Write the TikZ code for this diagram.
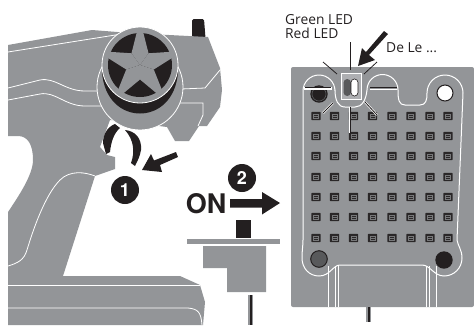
\documentclass[tikz,border=0pt]{standalone}
\usepackage{fontspec}
\setmainfont{Open Sans}
\newfontfamily\heros{TeX Gyre Heros}
\definecolor{gr}{HTML}{939598}
\definecolor{bk}{HTML}{231F20}
\definecolor{dg}{HTML}{58595B}
\tikzset{
 wl/.style={draw=white,line width=0.8pt},
 blk/.style={fill=bk,draw=none},
 body/.style={fill=gr,draw=none},
 lead/.style={draw=bk,line width=0.8pt},
 leadw/.style={draw=white,line width=2.2pt},
 numdisc/.style={circle,fill=bk,minimum size=28pt,inner sep=0pt,text=white,font=\heros\bfseries\fontsize{18}{18}\selectfont},
 lbl/.style={inner sep=0pt,anchor=west,text=bk,font=\fontsize{13.8}{14}\selectfont},
 ledcell/.pic={
  \fill[bk!92!gray,rounded corners=0.6pt] (-4.6,-4.2) rectangle (4.6,4.2);
  \draw[gr!75!bk,line width=0.5pt] (-2.7,-2.2) rectangle (2.7,2.2);
  \draw[gr!75!bk,line width=0.5pt] (-2.7,0) -- (2.7,0);
 }
}
\begin{document}
\begin{tikzpicture}[x=1pt,y=-1pt]
\useasboundingbox (0,0) rectangle (474,325);
% antenna
\fill[bk,rounded corners=1.5pt] (192,38) -- (192,19) -- (204,19) -- (205.5,38) -- cycle;
% transmitter body
\path[body] (8,45) -- (92,30) -- (130,33) -- (208,37) -- (220,68) -- (222,90) -- (220,107) -- (207,126) -- (199,126) -- (189,141) -- (175,141) -- (167,127) -- (110,120) -- (100,147) -- (107,155) -- (115,157) -- (115,169) -- (95,176) -- (63,276) -- (180,276) -- (200,285) -- (205,302) -- (203,325) -- (8,325) -- (8,212) .. controls (18,197) and (33,175) .. (33,160) .. controls (33,145) and (28,136) .. (18,136) -- (8,136) -- cycle;
% trigger
\fill[bk] (115,124) .. controls (107,127) and (103,135) .. (103,143) -- (106,154) -- (110,152) .. controls (111,142) and (114,133) .. (120,128) -- cycle;
\fill[bk] (125,130) .. controls (135,131) and (142,138) .. (141,150) .. controls (140,156) and (138,160) .. (135,166) -- (131,163) .. controls (135,152) and (134,140) .. (125,130) -- cycle;
% body lines
\draw[wl] (8,52) -- (128,33);
\draw[wl] (8,88) -- (40,80) .. controls (55,77) and (65,91) .. (85,91) -- (99,91);
\draw[wl] (8,100) -- (40,94) .. controls (55,91) and (65,106) .. (85,106) -- (102,106);
\draw[wl] (181,89) -- (205,88) -- (220,70);
\draw[wl] (178,103) -- (203,103) -- (203,115) -- (198,126);
\draw[wl] (8,266) .. controls (18,263) and (24,260) .. (27,250) .. controls (33,230) and (45,195) .. (60,180) .. controls (70,170) and (85,172) .. (95,176);
\draw[wl] (8,285) -- (200,285);
\draw[wl] (8,308) -- (188,308) .. controls (198,309) and (201,312) .. (202,325);
% wheel
\draw[wl,fill=gr] (140,87) circle [radius=43];
\path[blk] (102,72) .. controls (104,100) and (122,113.5) .. (140,113.5) .. controls (158,113.5) and (176,100) .. (178,72) -- cycle;
\draw[wl,fill=gr] (140,65) circle [radius=38];
\fill[bk] (140,65) circle [radius=32];
\begin{scope}[shift={(140,65)}]
 \foreach \a in {-90,-18,54,126,198}
  \fill[gr] (0,0) -- (\a-36:14.5) -- (\a-5.5:33) -- (\a+5.5:33) -- (\a+36:14.5) -- cycle;
\end{scope}
% arrow 1
\path[blk] (176,152) -- (178,157) -- (160,165) -- (162,172) -- (142,170) -- (151,154) -- (154,160.5) -- cycle;
\node[numdisc] (n1) at (125,190) {1};
\node[numdisc] (n2) at (242,178) {2};
\node[inner sep=0pt,text=bk,font=\heros\bfseries\fontsize{27}{27}\selectfont] (on) at (206,204) {ON};
\path[blk] (230,199) -- (262,199) -- (262,192) -- (280,203) -- (262,214.5) -- (262,207.5) -- (230,207.5) -- cycle;
% switch
\fill[bk] (236,219.5) rectangle (251,238);
\fill[gr] (187,239) rectangle (280,244);
\path[body] (203,246) -- (266,246) -- (266,292) -- (227,292) -- (227,268) -- (203,268) -- cycle;
\fill[gr] (248,295) rectangle (253,325);
\fill[bk] (249.5,295) rectangle (251.5,325);
% board
\fill[gr,rounded corners=2pt] (291,67) rectangle (474,307);
\draw[wl,line width=1pt] (303,240)
 -- (303,91) arc[start angle=180,end angle=360,radius=16] -- (335,90)
 .. controls (335,100) and (338,107) .. (345,107) -- (355,107)
 .. controls (362,107) and (366,100) .. (367,90)
 arc[start angle=180,end angle=360,radius=15.5]
 .. controls (398,100) and (399,105) .. (405,105) -- (420,105)
 .. controls (426,105) and (427,100) .. (427,93)
 arc[start angle=180,end angle=360,radius=18]
 -- (457,240) .. controls (458,246) and (462,250) .. (462,258)
 .. controls (462,268) and (454,276) .. (444,276)
 .. controls (434,276) and (430,265) .. (422,265) -- (340,265)
 .. controls (333,265) and (330,276) .. (319,276)
 .. controls (309,276) and (302,268) .. (302,258)
 .. controls (302,250) and (303,246) .. (303,240);
\foreach \x in {328.5,335,338,426,429,436}
 \draw[wl] (\x,266) -- (\x,307);
% holes
\fill[bk] (319,94) circle [radius=8.7];
\draw[dg,line width=0.6pt] (319,94) circle [radius=7];
\draw[leadw] (304,88.5) -- (332,88.5);
\draw[lead] (305,87) -- (331,87);
\draw[fill=white,draw=bk,line width=1pt] (445,93) circle [radius=8];
\draw[fill=dg,draw=bk,line width=1pt] (319,259) circle [radius=8.3];
\fill[bk] (444,260) circle [radius=8.7];
% LED matrix
\foreach \y in {116,136,156,177,197,217,238}
 \foreach \x in {316,334.5,353.5,372.5,392,411,430,448}
  \pic at (\x,\y) {ledcell};
% led window
\draw[draw=white,line width=0.8pt,fill=gr!75!white] (341,73) rectangle (361,99);
\fill[dg,rounded corners=3.7pt] (343.5,79) rectangle (351,96);
\draw[draw=bk,line width=0.6pt,fill=white,rounded corners=3.4pt] (351,79) rectangle (358,96);
% leaders
\draw[lead] (350,42) -- (350,70);
\draw[lead] (323,62) -- (337,74);
\draw[lead] (377,62) -- (364,74);
\draw[leadw] (333,103) -- (323,113);
\draw[lead] (333,103) -- (323,113);
\draw[leadw] (365,102) -- (377,115);
\draw[lead] (365,102) -- (377,115);
\draw[leadw] (350,107) -- (350,133);
\draw[lead] (350,107) -- (350,133);
\draw[white,line width=1pt] (370,89) -- (397,89);
\draw[lead] (370,87) -- (397,87);
% arrow 3
\path[blk] (384,31) -- (388,34) -- (369,55) -- (375,60) -- (358,66) -- (362,48) -- (366,52) -- cycle;
% board wire
\fill[gr] (366,307) rectangle (371,322);
\fill[bk] (367.5,307) rectangle (369.5,322);
% labels
\node[lbl] (g) at (285,20) {Green LED};
\node[lbl] (r) at (285,33) {Red LED};
\node[lbl] (d) at (386,48) {De Le ...};
\end{tikzpicture}
\end{document}
